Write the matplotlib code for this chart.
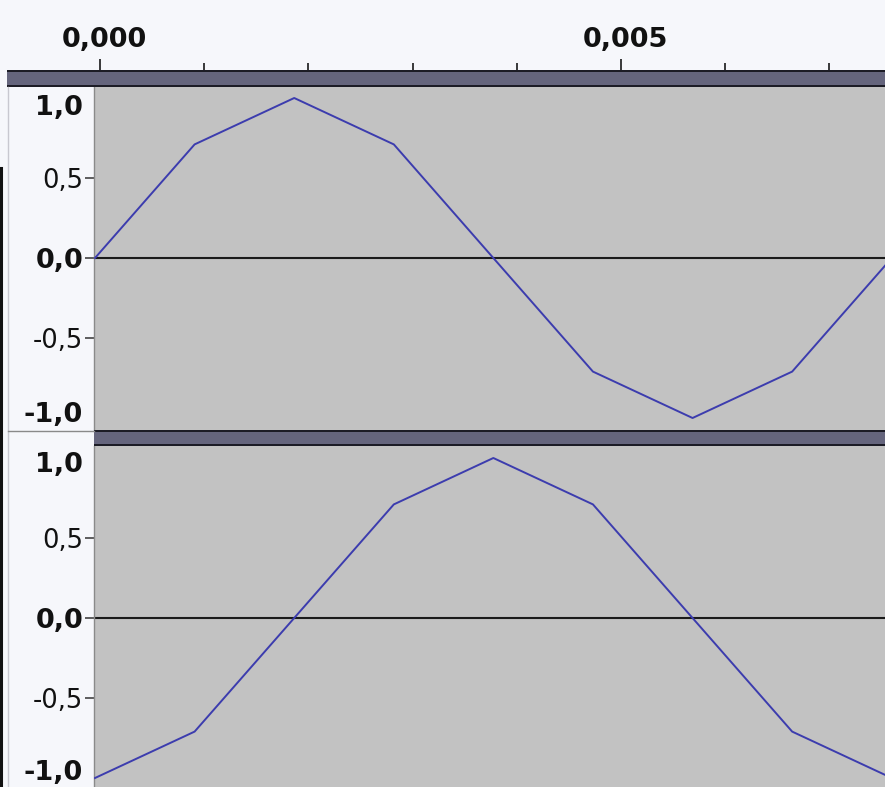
import matplotlib
matplotlib.use('Agg')
import matplotlib.pyplot as plt
from matplotlib.patches import Rectangle
from matplotlib.lines import Line2D
from matplotlib import transforms

# sample times (s) and the two channels
times = [-0.000048, 0.000908, 0.001864, 0.002820, 0.003775, 0.004731, 0.005687, 0.006643, 0.007599]
left_channel = [0.0, 0.71, 1.0, 0.71, 0.0, -0.71, -1.0, -0.71, 0.0]
right_channel = [-1.0, -0.71, 0.0, 0.71, 1.0, 0.71, 0.0, -0.71, -1.0]

ruler_labels = ['0,000', '0,005']
ruler_label_pos = [0.0, 0.005]
amp_ticks = [-0.5, 0.0, 0.5]
amp_labels = ['-0,5', '0,0', '0,5']

W, H = 885, 787
bg = '#f6f7fb'
track_bg = '#c2c2c2'
bar_dark = '#1c1c26'
bar_fill = '#65657d'
wave_col = '#3c3cae'
fs = 18.5
fs_b = 19.5

fig = plt.figure(figsize=(W / 100, H / 100), dpi=100, facecolor=bg)


def rect_px(x0, y0, x1, y1):
    # pixel box (from top-left) -> figure fraction rect
    return [x0 / W, 1 - y1 / H, (x1 - x0) / W, (y1 - y0) / H]


def add_box(x0, y0, x1, y1, color):
    r = rect_px(x0, y0, x1, y1)
    fig.add_artist(Rectangle((r[0], r[1]), r[2], r[3], transform=fig.transFigure,
                             facecolor=color, edgecolor='none', zorder=5))


def add_line(xs, ys, color, lw):
    fig.add_artist(Line2D([x / W for x in xs], [1 - y / H for y in ys],
                          transform=fig.transFigure, color=color, lw=lw, zorder=5))


x_lim = (-0.0000576, 0.007534)

# ruler on top
ruler = fig.add_axes(rect_px(94, 0, 885, 71))
ruler.set_facecolor(bg)
ruler.set_xlim(x_lim)
ruler.set_ylim(0, 1)
for s in ruler.spines.values():
    s.set_visible(False)
ruler.set_xticks([0.0, 0.005])
ruler.set_xticks([0.001, 0.002, 0.003, 0.004, 0.006, 0.007], minor=True)
ruler.tick_params(axis='x', which='both', direction='in', bottom=True, labelbottom=False,
                  color='#2a2a2a', width=1.3)
ruler.tick_params(axis='x', which='major', length=8.8)
ruler.tick_params(axis='x', which='minor', length=6)
ruler.set_yticks([])
lab_tr = transforms.offset_copy(ruler.transData, fig=fig, x=4.5, y=0, units='dots')
for pos, txt in zip(ruler_label_pos, ruler_labels):
    ruler.text(pos, 0.338, txt, transform=transforms.blended_transform_factory(lab_tr, ruler.transAxes),
               ha='center', va='baseline', fontsize=fs_b, fontweight='bold', color='#111111')


def track(ax_rect, values, top_lab_y, bot_lab_y, ylim):
    ax = fig.add_axes(ax_rect)
    ax.set_facecolor(track_bg)
    ax.set_xlim(x_lim)
    ax.set_ylim(ylim)
    ax.plot(times, values, color=wave_col, lw=1.4, zorder=3)
    ax.axhline(0, color='#1a1a1a', lw=1.5, zorder=2)
    for k in ['top', 'right', 'bottom']:
        ax.spines[k].set_visible(False)
    ax.spines['left'].set_color('#8a8a8a')
    ax.spines['left'].set_linewidth(1.0)
    ax.set_xticks([])
    ax.set_yticks(amp_ticks)
    ax.set_yticklabels(amp_labels, fontsize=fs, color='#111111')
    ax.tick_params(axis='y', length=6.2, width=1.1, color='#333333', pad=1.5)
    for lab in ax.get_yticklabels():
        if lab.get_text() == '0,0':
            lab.set_fontweight('bold')
            lab.set_fontsize(fs_b)
    tr = transforms.offset_copy(ax.get_yaxis_transform(), fig=fig, x=-11, y=0, units='dots')
    ax.text(0, top_lab_y, '1,0', transform=tr, ha='right', va='baseline',
            fontsize=fs_b, fontweight='bold', color='#111111')
    ax.text(0, bot_lab_y, '-1,0', transform=tr, ha='right', va='baseline',
            fontsize=fs_b, fontweight='bold', color='#111111')
    return ax


track(rect_px(94, 86, 885, 431), left_channel, 0.894, -1.025,
      ((258 - 431) / 160, (258 - 86) / 160))
track(rect_px(94, 446, 885, 787), right_channel, 0.9125, -1.0125,
      ((618 - 787) / 160, (618 - 446) / 160))

# separator bars
add_box(7, 70, 885, 87, bar_dark)
add_box(7, 72.5, 885, 84.5, bar_fill)
add_box(94, 430, 885, 446, bar_dark)
add_box(94, 432.5, 885, 444, bar_fill)

# left panel borders
add_line([7.5, 7.5], [87, 787], '#c8c8d0', 1.0)
add_line([8, 94], [431, 431], '#8a8a8a', 1.0)
add_line([1.2, 1.2], [168, 787], '#111111', 2.2)

fig.savefig('out.png', dpi=100, facecolor=bg)
